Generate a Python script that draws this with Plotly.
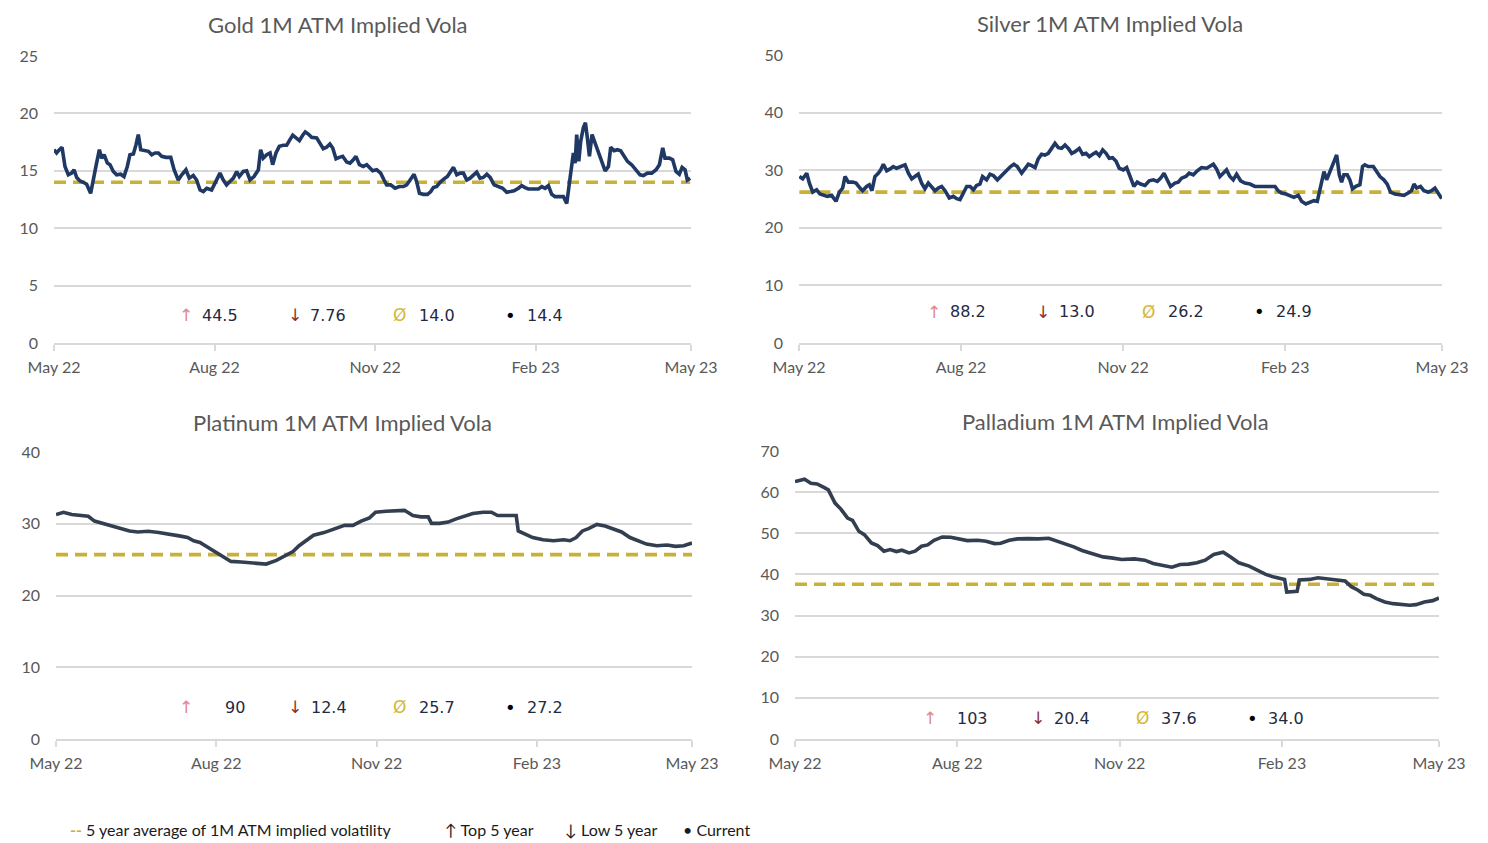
import pandas as pd
import plotly.graph_objects as go

START = pd.Timestamp("2022-05-01")

# ---------------- data (day offsets from 1 May 2022, implied vol in %) ----------------
gold_days = [0, 1.5, 3.1, 4.6, 6.3, 8.2, 10.1, 11.5, 13.0, 14.9, 16.8, 18.7, 21.0, 22.5, 24.4, 26.0, 27.3, 28.7,
             30.6, 32.1, 34.0, 35.9, 38.2, 40.1, 42.0, 43.5, 45.5, 47.0, 48.3, 49.7, 52.1, 54.1, 56.0, 57.9, 59.8,
             61.7, 64.2, 66.9, 68.8, 71.2, 73.2, 75.6, 77.5, 79.8, 81.7, 83.7, 85.6, 87.5, 90.3, 92.8, 95.1, 97.0,
             98.9, 100.8, 102.8, 104.7, 106.2, 108.5, 110.4, 112.3, 114.6, 117.1, 118.4, 119.9, 121.9, 123.8,
             125.3, 127.2, 129.1, 131.4, 133.3, 135.2, 136.8, 138.7, 140.6, 142.5, 144.0, 145.7, 147.6, 150.5,
             152.4, 154.3, 156.2, 158.1, 159.7, 161.6, 163.5, 165.4, 167.7, 169.6, 171.5, 173.0, 175.0, 177.2,
             179.2, 181.1, 182.6, 184.9, 187.2, 189.1, 190.6, 192.9, 195.4, 197.9, 200.2, 202.1, 204.0, 206.3,
             207.8, 209.4, 211.7, 214.0, 215.9, 217.4, 219.3, 221.2, 223.5, 225.4, 227.3, 228.9, 230.8, 232.7,
             234.6, 236.5, 238.4, 240.3, 242.2, 244.1, 246.0, 248.0, 249.9, 252.2, 254.6, 257.1, 259.4, 261.3,
             263.6, 266.1, 268.0, 269.9, 271.8, 274.7, 277.6, 279.5, 281.4, 283.3, 285.2, 287.1, 289.6, 291.9,
             293.8, 295.3, 296.7, 297.6, 298.6, 299.5, 300.7, 301.8, 303.3, 304.5, 305.6, 306.8, 308.3, 310.0,
             312.0, 313.8, 315.8, 317.7, 319.0, 320.9, 322.8, 324.7, 326.6, 328.6, 331.0, 333.5, 335.8, 337.7,
             340.0, 342.5, 345.0, 346.9, 348.8, 350.1, 352.6, 354.5, 356.4, 358.3, 359.9, 361.6, 362.9, 364.5]
gold_vals = [16.84, 16.55, 16.84, 17.05, 15.38, 14.65, 14.8, 15.09, 14.42, 14.12, 14.0, 13.83, 13.04, 14.06,
             15.67, 16.84, 16.1, 16.4, 15.67, 15.53, 14.94, 14.65, 14.7, 14.5, 15.38, 16.4, 16.46, 17.28, 18.16,
             16.84, 16.75, 16.7, 16.4, 16.55, 16.55, 16.26, 16.17, 16.17, 15.09, 14.2, 14.65, 15.09, 14.36,
             14.59, 14.2, 13.33, 13.19, 13.48, 13.33, 14.06, 14.8, 14.2, 13.77, 14.06, 14.36, 14.94, 14.5,
             14.94, 15.0, 14.2, 14.5, 15.09, 16.84, 16.1, 16.4, 16.55, 15.53, 16.55, 17.13, 17.22, 17.22, 17.72,
             18.1, 17.87, 17.63, 18.1, 18.39, 18.2, 17.92, 17.87, 17.43, 16.93, 17.05, 17.34, 16.99, 16.05,
             16.17, 16.26, 15.76, 15.67, 15.96, 16.26, 15.53, 15.38, 15.53, 15.23, 15.0, 15.09, 14.8, 14.2,
             13.77, 13.77, 13.48, 13.63, 13.63, 13.77, 14.2, 14.7, 14.06, 13.04, 12.95, 12.95, 13.19, 13.54,
             13.63, 14.0, 14.3, 14.5, 14.94, 15.3, 14.65, 14.8, 14.8, 14.2, 14.36, 14.65, 14.88, 14.36, 14.42,
             14.7, 14.42, 13.77, 13.63, 13.48, 13.13, 13.19, 13.25, 13.48, 13.71, 13.54, 13.42, 13.42, 13.42,
             13.63, 13.48, 13.71, 12.95, 12.75, 12.75, 12.75, 12.16, 14.06, 15.53, 16.55, 15.67, 18.16, 15.82,
             17.57, 18.74, 19.18, 17.87, 16.26, 18.16, 17.43, 16.55, 15.67, 15.0, 15.38, 17.05, 16.75, 16.84,
             16.75, 16.26, 15.82, 15.53, 15.09, 14.65, 14.59, 14.8, 14.8, 15.09, 15.53, 16.99, 16.1, 16.1,
             15.96, 14.94, 14.7, 15.3, 15.09, 14.2, 14.36]

silver_days = [0.2, 2.1, 4.4, 5.9, 7.8, 10.0, 11.9, 13.8, 16.1, 18.5, 21.0, 22.9, 24.8, 26.1, 28.0, 30.5, 32.4,
               34.6, 36.1, 38.4, 39.9, 41.4, 43.1, 45.0, 46.4, 47.9, 49.8, 51.7, 53.5, 55.4, 57.3, 60.2, 62.1,
               64.0, 65.8, 67.7, 69.6, 71.5, 73.4, 75.3, 77.2, 79.1, 81.0, 82.9, 85.3, 87.6, 89.5, 91.4, 93.3,
               95.2, 97.1, 99.0, 100.8, 102.7, 104.2, 106.5, 108.4, 110.3, 112.6, 114.5, 116.4, 118.3, 120.1,
               122.0, 123.9, 126.4, 128.3, 130.2, 132.1, 134.0, 135.8, 137.7, 139.6, 141.5, 143.4, 145.3, 147.2,
               149.1, 151.0, 152.9, 154.8, 156.7, 159.1, 161.0, 162.9, 164.8, 166.7, 168.6, 170.5, 172.4, 174.3,
               176.1, 178.0, 179.9, 181.8, 184.1, 186.0, 187.9, 190.1, 192.0, 193.9, 196.4, 198.8, 201.1, 203.4,
               205.3, 207.2, 209.0, 210.9, 213.4, 215.3, 217.2, 219.6, 221.5, 223.8, 226.1, 228.5, 231.4, 233.3,
               235.2, 237.0, 238.9, 240.8, 242.7, 244.6, 246.5, 248.4, 250.7, 253.1, 256.0, 258.8, 261.6, 264.5,
               267.3, 270.2, 272.0, 273.9, 276.4, 278.7, 280.9, 283.4, 285.3, 287.7, 290.0, 292.3, 294.2, 296.1,
               298.0, 299.5, 301.4, 303.3, 305.2, 306.7, 308.0, 309.3, 311.2, 312.7, 314.2, 316.1, 318.4, 319.9,
               321.2, 323.1, 326.0, 327.9, 329.8, 332.0, 333.9, 335.8, 338.3, 341.1, 343.4, 345.8, 347.7, 349.1,
               350.6, 352.8, 354.7, 357.2, 359.1, 361.0, 362.9, 364.8]
silver_vals = [28.91, 28.5, 29.48, 27.76, 26.2, 26.6, 25.86, 25.63, 25.46, 25.63, 24.6, 26.2, 26.9, 28.9, 27.93,
               27.93, 27.76, 26.9, 26.44, 27.18, 27.47, 26.44, 28.9, 29.48, 30.06, 31.03, 29.89, 30.23, 30.63,
               30.34, 30.52, 30.92, 29.48, 28.5, 28.9, 29.31, 27.76, 26.78, 27.76, 27.18, 26.44, 26.9, 27.18,
               26.44, 25.17, 25.46, 25.06, 24.89, 26.03, 27.18, 27.18, 26.6, 27.36, 27.59, 28.9, 28.33, 29.31,
               29.08, 28.33, 28.9, 29.48, 30.23, 30.63, 31.03, 30.63, 29.48, 30.23, 31.03, 30.8, 30.46, 31.95,
               32.76, 32.64, 32.93, 33.79, 34.66, 33.91, 33.79, 34.37, 33.79, 32.93, 33.22, 33.79, 32.76, 32.93,
               32.36, 32.76, 33.1, 32.53, 33.51, 32.93, 32.07, 32.18, 31.61, 30.34, 30.06, 30.46, 28.9, 27.18,
               27.93, 27.59, 27.36, 28.16, 28.33, 28.05, 28.62, 29.48, 28.33, 27.18, 27.76, 27.93, 28.62, 28.9,
               29.48, 29.2, 29.89, 30.46, 30.34, 30.63, 31.03, 30.23, 28.9, 29.48, 30.06, 28.9, 28.33, 29.31,
               28.16, 27.76, 27.59, 27.18, 27.18, 27.18, 27.18, 27.18, 26.44, 26.03, 25.86, 25.63, 25.29, 25.63,
               24.6, 24.14, 24.48, 24.71, 24.6, 27.47, 29.77, 28.33, 29.77, 31.49, 32.64, 29.2, 27.93, 29.2, 29.2,
               28.33, 26.78, 27.18, 27.47, 30.63, 30.92, 30.63, 30.63, 29.77, 28.9, 28.33, 27.59, 26.2, 25.86,
               25.75, 25.63, 26.03, 26.44, 27.59, 26.9, 27.18, 26.44, 26.2, 26.44, 26.9, 25.86, 25.06]

platinum_days = [0, 4.3, 9.0, 13.8, 18.5, 22.1, 26.8, 31.6, 36.3, 42.2, 47.0, 52.9, 58.9, 64.8, 70.7, 75.5, 79.0,
                 82.6, 87.3, 92.1, 96.8, 100.4, 106.3, 113.4, 120.6, 126.5, 131.2, 136.0, 139.5, 143.1, 147.8,
                 153.8, 158.5, 165.6, 170.4, 175.1, 179.9, 183.4, 189.4, 195.3, 200.0, 204.8, 209.5, 213.6, 215.5,
                 220.2, 225.0, 229.7, 234.5, 239.2, 245.1, 249.9, 253.4, 258.2, 264.1, 265.3, 270.1, 273.6, 279.5,
                 285.5, 291.4, 295.0, 298.5, 302.1, 305.6, 310.4, 315.1, 319.9, 324.6, 329.4, 334.1, 338.9, 344.8,
                 350.7, 355.5, 360.2, 365.0]
platinum_vals = [31.28, 31.6, 31.28, 31.14, 31.05, 30.37, 30.05, 29.68, 29.32, 29.0, 28.86, 28.95, 28.77, 28.58,
                 28.31, 28.08, 27.63, 27.4, 26.71, 25.94, 25.34, 24.75, 24.66, 24.47, 24.38, 24.89, 25.57, 26.12,
                 26.94, 27.63, 28.4, 28.77, 29.22, 29.77, 29.77, 30.37, 30.82, 31.6, 31.74, 31.87, 31.87, 31.14,
                 30.96, 30.96, 30.05, 30.05, 30.23, 30.68, 31.05, 31.42, 31.6, 31.6, 31.14, 31.14, 31.14, 29.0,
                 28.54, 28.08, 27.76, 27.63, 27.76, 27.63, 28.08, 29.0, 29.32, 29.91, 29.68, 29.32, 28.86, 28.08,
                 27.63, 27.17, 26.94, 27.03, 26.85, 26.94, 27.31]

palladium_days = [0, 5.4, 9.0, 12.5, 16.1, 18.9, 22.7, 26.0, 29.8, 32.6, 36.2, 39.3, 43.3, 46.8, 50.4, 53.9, 57.5,
                  60.6, 64.6, 68.1, 71.7, 75.2, 78.8, 83.5, 88.2, 93.0, 97.7, 103.6, 108.3, 113.1, 116.6, 121.4,
                  126.1, 132.0, 137.9, 143.8, 148.6, 153.3, 158.0, 162.7, 168.7, 174.6, 179.3, 185.2, 192.3, 198.2,
                  203.0, 207.7, 213.6, 218.3, 223.1, 227.8, 232.5, 237.3, 242.7, 246.7, 251.5, 257.4, 262.1, 266.8,
                  271.6, 277.5, 278.7, 284.6, 285.8, 291.7, 296.4, 301.1, 305.9, 311.8, 315.3, 318.9, 322.4, 326.0,
                  329.5, 334.3, 339.0, 343.7, 348.4, 352.0, 356.7, 361.5, 365.0]
palladium_vals = [62.58, 63.15, 62.18, 62.0, 61.2, 60.56, 57.34, 55.89, 53.71, 53.15, 50.48, 49.68, 47.66, 47.02,
                  45.65, 46.05, 45.56, 45.89, 45.24, 45.65, 46.85, 47.18, 48.31, 49.11, 49.03, 48.71, 48.23, 48.31,
                  48.06, 47.5, 47.58, 48.31, 48.63, 48.71, 48.63, 48.79, 48.06, 47.5, 46.69, 45.81, 45.08, 44.27,
                  44.03, 43.63, 43.79, 43.47, 42.66, 42.26, 41.77, 42.42, 42.5, 42.82, 43.47, 44.84, 45.4, 44.27,
                  42.82, 42.02, 41.05, 40.0, 39.35, 38.79, 35.73, 35.89, 38.63, 38.79, 39.19, 38.95, 38.79, 38.39,
                  37.02, 36.21, 35.16, 34.92, 34.11, 33.31, 32.9, 32.66, 32.5, 32.66, 33.31, 33.63, 34.27]

titles = ["Gold 1M ATM Implied Vola", "Silver 1M ATM Implied Vola",
          "Platinum 1M ATM Implied Vola", "Palladium 1M ATM Implied Vola"]
avg_5y = [14.0, 26.2, 25.7, 37.6]
top_5y = ["44.5", "88.2", "90", "103"]
low_5y = ["7.76", "13.0", "12.4", "20.4"]
avg_txt = ["14.0", "26.2", "25.7", "37.6"]
current = ["14.4", "24.9", "27.2", "34.0"]
y_max = [25, 50, 40, 70]
y_step = [5, 10, 10, 10]
tick_dates = ["2022-05-01", "2022-08-01", "2022-11-01", "2023-02-01", "2023-05-01"]
tick_text = ["May 22", "Aug 22", "Nov 22", "Feb 23", "May 23"]

series_days = [gold_days, silver_days, platinum_days, palladium_days]
series_vals = [gold_vals, silver_vals, platinum_vals, palladium_vals]

# ---------------- layout geometry (pixels) ----------------
W, H = 1488, 843
boxes = [(54, 691, 56, 343), (799, 1442, 55, 343), (56, 692, 452, 739), (795, 1439, 451, 739)]
line_colors = ["#1F3864", "#1F3864", "#333F50", "#333F50"]
stats_pos = [
    (315, [(186, 200), (295, 308), (399, 417), (511, 525)]),
    (312, [(934, 948), (1043, 1057), (1148, 1166), (1259, 1274)]),
    (707, [(186, 223), (295, 309), (399, 417), (511, 525)]),
    (718, [(930, 955), (1038, 1052), (1142, 1159), (1252, 1266)]),
]
title_pos = [(338, 24), (1110, 23), (342, 422), (1115, 421)]

GOLDLINE = "#C9B037"
NAVY_TXT = "#1F2A44"
GREY_TXT = "#595959"


def px(x):
    return x / W


def py(y):
    return 1 - y / H


fig = go.Figure()
annotations = []
layout_axes = {}

for i in range(4):
    n = "" if i == 0 else str(i + 1)
    xa, ya = "x" + n, "y" + n
    l, r, t, b = boxes[i]
    xs = [START + pd.Timedelta(days=d) for d in series_days[i]]
    fig.add_trace(go.Scatter(x=[xs[0], xs[-1]], y=[avg_5y[i], avg_5y[i]], mode="lines",
                             line=dict(color=GOLDLINE, width=3.6, dash="12px,7px"),
                             xaxis=xa, yaxis=ya, showlegend=False, hoverinfo="skip"))
    fig.add_trace(go.Scatter(x=xs, y=series_vals[i], mode="lines",
                             line=dict(color=line_colors[i], width=3.6),
                             xaxis=xa, yaxis=ya, showlegend=False))
    layout_axes["xaxis" + n] = dict(
        domain=[px(l), px(r)], anchor=ya, type="date", automargin=False,
        range=[START, pd.Timestamp("2023-05-01")],
        tickvals=tick_dates, ticktext=tick_text,
        showgrid=False, showline=True, linecolor="#D9D9D9", linewidth=1.5,
        ticks="outside", ticklen=6, tickcolor="#D9D9D9", tickwidth=1.5,
        tickfont=dict(family="Lato", size=16, color=GREY_TXT), ticklabelstandoff=3,
        zeroline=False, fixedrange=True)
    layout_axes["yaxis" + n] = dict(
        domain=[py(b), py(t)], anchor=xa, range=[0, y_max[i]], dtick=y_step[i], tick0=0,
        automargin=False,
        showgrid=True, gridcolor="#D9D9D9", gridwidth=1.5, zeroline=False, showline=False,
        tickfont=dict(family="Lato", size=16, color=GREY_TXT), ticklabelstandoff=15,
        fixedrange=True)
    tx, ty = title_pos[i]
    annotations.append(dict(text=titles[i], x=px(tx), y=py(ty), xref="paper", yref="paper",
                            xanchor="center", yanchor="middle", showarrow=False,
                            font=dict(family="Lato", size=22, color=GREY_TXT)))
    sy, items = stats_pos[i]
    symbols = [("↑", "#E08A8A"), ("↓", "#8C2F2F"), ("Ø", "#D4B83A"), ("•", "#000000")]
    numbers = [top_5y[i], low_5y[i], avg_txt[i], current[i]]
    for (sx, nx), (sym, col), num in zip(items, symbols, numbers):
        annotations.append(dict(text=sym, x=px(sx), y=py(sy), xref="paper", yref="paper",
                                xanchor="center", yanchor="middle", showarrow=False,
                                font=dict(family="DejaVu Sans", size=17 if sym != "•" else 18, color=col)))
        annotations.append(dict(text=num, x=px(nx), y=py(sy), xref="paper", yref="paper",
                                xanchor="left", yanchor="middle", showarrow=False,
                                font=dict(family="DejaVu Sans", size=16, color=NAVY_TXT)))

legend_items = [
    ("<span style='color:#C9B037'><b>--</b></span> 5 year average of 1M ATM implied volatility", 68),
    ("↑ Top 5 year", 443),
    ("↓ Low 5 year", 563),
    ("• Current", 681),
]
for txt, lx in legend_items:
    annotations.append(dict(text=txt, x=px(lx), y=py(829), xref="paper", yref="paper",
                            xanchor="left", yanchor="middle", showarrow=False,
                            font=dict(family="Lato", size=16, color="#1A1A1A")))

fig.update_layout(width=W, height=H, margin=dict(l=0, r=0, t=0, b=0, autoexpand=False),
                  paper_bgcolor="white", plot_bgcolor="white",
                  annotations=annotations, showlegend=False, **layout_axes)

fig.write_html("out.html", config={"displayModeBar": False},
               post_script="document.body.style.margin='0px';document.body.style.overflow='hidden';")
